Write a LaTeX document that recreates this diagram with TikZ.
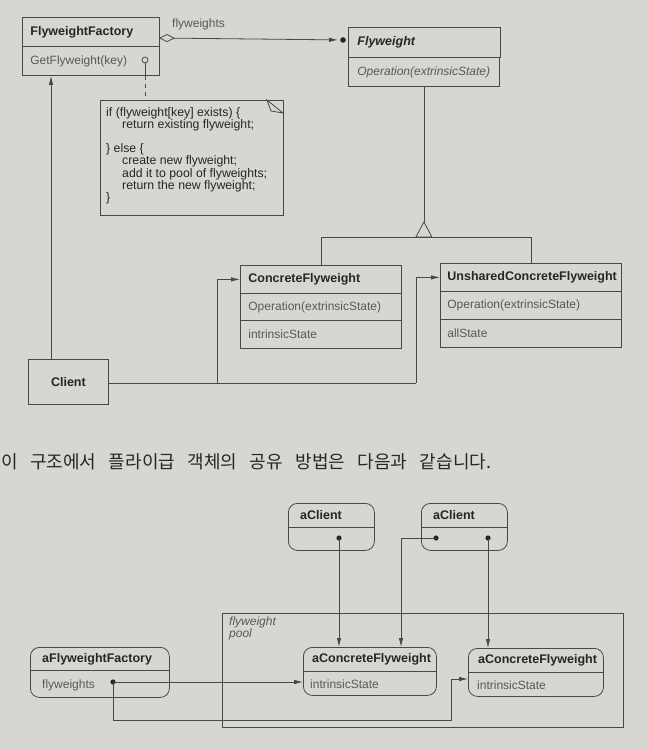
\documentclass[tikz,border=0pt]{standalone}
\usepackage{fontspec}
\setmainfont{Liberation Sans}
\newfontfamily\kor{Noto Sans CJK KR}
\usetikzlibrary{arrows.meta,calc}
\definecolor{bg}{RGB}{214,214,210}
\definecolor{ln}{RGB}{72,72,72}
\definecolor{tx}{RGB}{38,38,38}
\definecolor{txs}{RGB}{88,88,88}
\newcommand\ksp{\hspace*{12.5pt}}
\begin{document}
\begin{tikzpicture}[x=1pt,y=-1pt,
  cls/.style={draw=ln, line width=0.8pt, anchor=north west, inner xsep=8pt, inner ysep=0pt, align=left, text=tx},
  ttl/.style={font=\fontsize{12.5}{14}\selectfont\bfseries},
  mth/.style={font=\fontsize{12}{14}\selectfont, text=txs},
  obj/.style={draw=ln, line width=0.8pt, anchor=north west, rounded corners=9pt, inner sep=0pt},
  otext/.style={anchor=west, inner sep=0pt, text=tx},
  conn/.style={draw=ln, line width=0.8pt},
  arr/.style={conn, -{Latex[length=9pt,width=4.5pt]}},
  dot/.style={fill=tx}
]
\fill[bg] (0,0) rectangle (648,750);
\useasboundingbox (0,0) rectangle (648,750);

% ---------- class diagram ----------
\node[cls, ttl, text width=121pt, minimum height=29pt] (ffT) at (22,17) {FlyweightFactory};
\node[cls, mth, text width=121pt, minimum height=29pt] (ffM) at (22,46) {GetFlyweight(key)};

\node[cls, ttl, text width=134pt, minimum height=30pt, inner xsep=9pt] (fwT) at (348,27) {\itshape Flyweight};
\node[cls, mth, text width=133pt, minimum height=29pt, inner xsep=9pt] (fwM) at (348,57) {\itshape Operation(extrinsicState)};

\node[cls, ttl, text width=145pt, minimum height=28pt] (cfT) at (240,265) {ConcreteFlyweight};
\node[cls, mth, text width=145pt, minimum height=27pt] (cfM) at (240,293) {Operation(extrinsicState)};
\node[cls, mth, text width=145pt, minimum height=28pt] (cfS) at (240,320) {intrinsicState};

\node[cls, ttl, text width=167pt, minimum height=28pt, inner xsep=7pt] (ucT) at (440,263) {UnsharedConcreteFlyweight};
\node[cls, mth, text width=167pt, minimum height=28pt, inner xsep=7pt] (ucM) at (440,291) {Operation(extrinsicState)};
\node[cls, mth, text width=167pt, minimum height=28pt, inner xsep=7pt] (ucS) at (440,319) {allState};

\node[draw=ln, line width=0.8pt, anchor=north west, minimum width=80pt, minimum height=45pt, inner sep=0pt, text=tx, ttl] (client) at (28,359) {Client};

% note
\node[draw=ln, line width=0.8pt, anchor=north west, minimum width=183pt, minimum height=115pt, inner sep=0pt] (note) at (100,100) {};
\draw[conn] (267,100) -- (283,113) -- (271,111) -- cycle;
\node[anchor=north west, align=left, inner sep=0pt, text=tx, font=\fontsize{12.3}{12.2}\selectfont] (notetxt) at (106,107)
 {if (flyweight[key] exists) \{\\
  \hspace*{16pt}return existing flyweight;\\[12.2pt]
  \} else \{\\
  \hspace*{16pt}create new flyweight;\\
  \hspace*{16pt}add it to pool of flyweights;\\
  \hspace*{16pt}return the new flyweight;\\
  \}};

% lollipop + dashed link
\coordinate (lp) at (145,60);
\draw[conn] (lp) circle (3);
\draw[conn] ($(lp)+(0,3)$) -- (ffM.south -| lp);
\draw[conn, dashed, dash pattern=on 4pt off 4pt] (ffM.south -| lp) -- (note.north -| lp);

% aggregation flyweights
\coordinate (agA) at (159,38);
\coordinate (agB) at (348,40);
\draw[conn, {Diamond[open,length=16pt,width=8pt]}-{Latex[length=9pt,width=4.5pt]}, shorten >=10pt] (agA) -- (agB);
\fill[tx] ($(agB)+(-5,0)$) circle (2.8);
\node[anchor=south west, inner sep=0pt, text=txs, font=\fontsize{12}{13}\selectfont] (agL) at (172,30) {flyweights};

% client -> factory
\draw[arr] (client.north -| 51,0) -- (ffM.south -| 51,0);

% generalization
\coordinate (apex) at (fwM.south |- 0,222);
\draw[conn] (fwM.south) -- (apex);
\draw[conn] (apex) -- ++(-8,15) -- ++(16,0) -- cycle;
\draw[conn] (cfT.north) -- (cfT.north |- 0,237) -- (ucT.north |- 0,237) -- (ucT.north);

% client -> concrete flyweights
\coordinate (br1) at (217,383);
\coordinate (br2) at (416,383);
\draw[conn] (client.east |- br1) -- (br2);
\draw[arr] (br1) |- (cfT.west);
\draw[arr] (br2) |- (ucT.west);

% ---------- caption ----------
\node[anchor=west, inner sep=0pt, text=tx, font=\kor\fontsize{18}{20}\selectfont] (caption) at (1,462) {이\ksp 구조에서\ksp 플라이급\ksp 객체의\ksp 공유\ksp 방법은\ksp 다음과\ksp 같습니다.};

% ---------- object diagram ----------
\node[draw=ln, line width=0.8pt, anchor=north west, minimum width=401pt, minimum height=114pt, inner sep=0pt] (pool) at (222,613) {};
\node[anchor=north west, align=left, inner sep=0pt, text=txs, font=\fontsize{12}{12}\selectfont\itshape] (poolL) at (229,617) {flyweight\\pool};

\node[obj, minimum width=86pt, minimum height=47pt] (c1) at (288,503) {};
\draw[conn] (288,527) -- (374,527);
\node[otext, ttl] (c1T) at (300,515) {aClient};
\node[obj, minimum width=86pt, minimum height=47pt] (c2) at (421,503) {};
\draw[conn] (421,527) -- (507,527);
\node[otext, ttl] (c2T) at (433,515) {aClient};

\node[obj, minimum width=133pt, minimum height=48pt] (cf1) at (303,647) {};
\draw[conn] (303,671) -- (436,671);
\node[otext, ttl] (cf1T) at (312,659) {aConcreteFlyweight};
\node[otext, mth] (cf1S) at (310,684) {intrinsicState};

\node[obj, minimum width=135pt, minimum height=48pt] (cf2) at (468,648) {};
\draw[conn] (468,672) -- (603,672);
\node[otext, ttl] (cf2T) at (478,660) {aConcreteFlyweight};
\node[otext, mth] (cf2S) at (477,685) {intrinsicState};

\node[obj, minimum width=139pt, minimum height=50pt] (aff) at (30,647) {};
\draw[conn] (30,670) -- (169,670);
\node[otext, ttl] (affT) at (42,659) {aFlyweightFactory};
\node[otext, mth] (affS) at (42,685) {flyweights};

% references
\coordinate (d1) at (339,538);
\coordinate (d2) at (436,538);
\coordinate (d3) at (488,538);
\coordinate (d4) at (113,682);
\fill[tx] (d1) circle (2.6);
\fill[tx] (d2) circle (2.6);
\fill[tx] (d3) circle (2.6);
\fill[tx] (d4) circle (2.6);
\draw[arr] (d1) -- (cf1.north -| d1);
\draw[arr] (d2) -| (cf1.north -| 401,0);
\draw[arr] (d3) -- (cf2.north -| d3);
\draw[arr] (d4) -- (cf1.west |- d4);
\draw[arr] (d4) |- (451,720) |- (cf2.west |- 0,679);
\end{tikzpicture}
\end{document}
